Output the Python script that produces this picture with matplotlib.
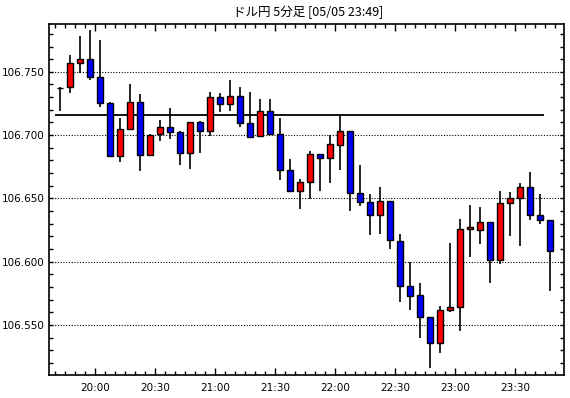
import matplotlib
matplotlib.use("Agg")
import matplotlib.pyplot as plt
import matplotlib.ticker as ticker
import numpy as np
import pandas as pd

# 5 minute bars, 19:40 .. 23:45
opens = [106.7376, 106.7378, 106.7571, 106.7603, 106.7460, 106.7254, 106.6833, 106.7048, 106.7262, 106.6846,
         106.7008, 106.7063, 106.7023, 106.6857, 106.7102, 106.7031, 106.7300, 106.7244, 106.7308, 106.7094,
         106.6991, 106.7189, 106.7007, 106.6723, 106.6557, 106.6628, 106.6849, 106.6818, 106.6920, 106.7031,
         106.6541, 106.6470, 106.6367, 106.6478, 106.6161, 106.5806, 106.5735, 106.5561, 106.5355, 106.5616,
         106.5640, 106.6256, 106.6248, 106.6312, 106.6011, 106.6462, 106.6501, 106.6588, 106.6367, 106.6327]
highs = [106.7380, 106.7630, 106.7783, 106.7828, 106.7749, 106.7262, 106.7135, 106.7407, 106.7328, 106.7008,
         106.7122, 106.7217, 106.7036, 106.7102, 106.7113, 106.7342, 106.7334, 106.7437, 106.7381, 106.7342,
         106.7287, 106.7287, 106.7134, 106.6810, 106.6654, 106.6876, 106.6849, 106.7000, 106.7157, 106.7031,
         106.6762, 106.6533, 106.6591, 106.6478, 106.6217, 106.5995, 106.5829, 106.5561, 106.5648, 106.6146,
         106.6335, 106.6446, 106.6430, 106.6312, 106.6557, 106.6549, 106.6620, 106.6707, 106.6533, 106.6327]
lows = [106.7188, 106.7331, 106.7492, 106.7434, 106.7220, 106.6833, 106.6791, 106.7048, 106.6719, 106.6838,
        106.6950, 106.6968, 106.6767, 106.6736, 106.6857, 106.6991, 106.7179, 106.7194, 106.7068, 106.6984,
        106.6991, 106.7007, 106.6644, 106.6549, 106.6420, 106.6493, 106.6557, 106.6620, 106.6723, 106.6399,
        106.6438, 106.6209, 106.6217, 106.6098, 106.5679, 106.5616, 106.5395, 106.5157, 106.5276, 106.5600,
        106.5450, 106.6035, 106.6138, 106.5829, 106.5980, 106.6201, 106.6122, 106.6327, 106.6296, 106.5766]
closes = [106.7376, 106.7571, 106.7603, 106.7460, 106.7254, 106.6833, 106.7048, 106.7262, 106.6846, 106.7000,
          106.7063, 106.7024, 106.6857, 106.7102, 106.7031, 106.7300, 106.7244, 106.7308, 106.7094, 106.6984,
          106.7189, 106.7007, 106.6723, 106.6557, 106.6628, 106.6849, 106.6818, 106.6928, 106.7031, 106.6541,
          106.6470, 106.6367, 106.6478, 106.6169, 106.5806, 106.5727, 106.5561, 106.5355, 106.5616, 106.5640,
          106.6256, 106.6272, 106.6312, 106.6011, 106.6462, 106.6501, 106.6588, 106.6367, 106.6327, 106.6082]
ref_level = 106.7158
title = "ドル円 5分足 [05/05 23:49]"
tick_labels = ["20:00", "20:30", "21:00", "21:30", "22:00", "22:30", "23:00", "23:30"]

times = pd.date_range("2020-05-05 19:40", periods=len(opens), freq="5min")
base = pd.Timestamp("2020-05-05 20:00")
# minutes from 20:00, candle drawn in the middle of its 5 minutes
x = np.array([(t - base).total_seconds() / 60 + 2.5 for t in times])

o = np.array(opens)
h = np.array(highs)
l = np.array(lows)
c = np.array(closes)
up = c >= o

fig = plt.figure(figsize=(5.7, 3.98), dpi=100)
ax = fig.add_axes([0.086, 0.058, 0.9035, 0.882])

ax.vlines(x, l, h, color="black", linewidth=1.2, zorder=2)
ax.bar(x[up], c[up] - o[up], bottom=o[up], width=3.4, color="#ff0000",
       edgecolor="black", linewidth=1.0, zorder=3)
ax.bar(x[~up], o[~up] - c[~up], bottom=c[~up], width=3.4, color="#0000ff",
       edgecolor="black", linewidth=1.0, zorder=3)

ax.hlines(ref_level, -20, 224.5, color="black", linewidth=1.3, zorder=1)

ax.set_xlim(-23, 234.5)
ax.set_ylim(106.5105, 106.7879)

ax.yaxis.set_major_locator(ticker.MultipleLocator(0.05))
ax.yaxis.set_minor_locator(ticker.MultipleLocator(0.01))
ax.yaxis.set_major_formatter(ticker.FormatStrFormatter("%.3f"))
ax.set_xticks(np.arange(len(tick_labels)) * 30)
ax.set_xticklabels(tick_labels)
ax.xaxis.set_minor_locator(ticker.MultipleLocator(5))

ax.grid(axis="y", which="major", color="black", linestyle=(0, (1, 1.5)), linewidth=0.8)
ax.set_axisbelow(True)

ax.tick_params(which="both", direction="in", top=True, right=True, labelsize=7.5,
               color="black", width=1)
ax.tick_params(which="major", length=5)
ax.tick_params(which="minor", length=3)
ax.tick_params(axis="y", which="major", length=3, pad=3)
ax.tick_params(axis="x", pad=6)
for s in ax.spines.values():
    s.set_linewidth(1.2)

fig.text(0.54, 0.968, title, ha="center", va="center", fontsize=9,
         family=["Noto Sans CJK JP", "DejaVu Sans"])

fig.savefig("out.png", dpi=100)
